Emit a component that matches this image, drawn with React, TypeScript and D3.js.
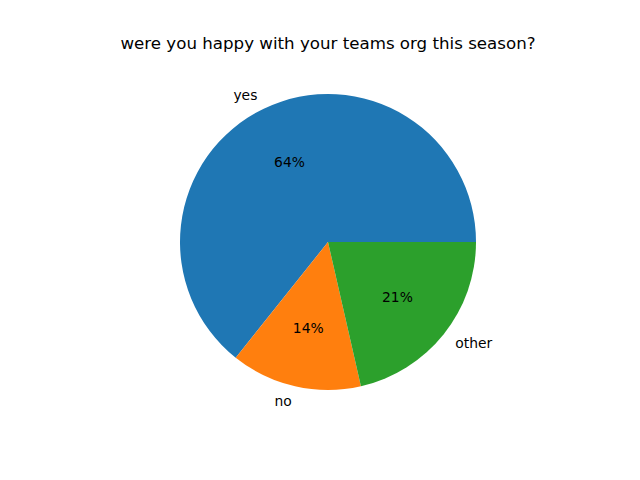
import React from 'react';
import * as d3 from 'd3';

const categories = ['yes', 'no', 'other'];
const counts = [9, 2, 3];
const colors = ['#1f77b4', '#ff7f0e', '#2ca02c'];
const title = 'were you happy with your teams org this season?';

const width = 640;
const height = 480;
const cx = 328;
const cy = 242;
const radius = 148;

const App = () => {
  // matplotlib style: start at 3 o'clock, go counterclockwise
  const pie = d3.pie<number>()
    .sort(null)
    .startAngle(Math.PI / 2)
    .endAngle(Math.PI / 2 - 2 * Math.PI);

  const arcs = pie(counts);
  const arc = d3.arc<d3.PieArcDatum<number>>().innerRadius(0).outerRadius(radius);
  const total = d3.sum(counts);

  const at = (a: number, r: number) => [r * Math.sin(a), -r * Math.cos(a)];

  return (
    <div style={{ position: 'absolute', left: 0, top: 0 }}>
      <svg width={width} height={height} style={{ display: 'block', background: '#fff' }}
        fontFamily="DejaVu Sans, sans-serif">
        <text x={cx} y={49} textAnchor="middle" fontSize={16.67} fill="#000">{title}</text>
        <g transform={`translate(${cx},${cy})`}>
          {arcs.map((d, i) => (
            <path key={i} d={arc(d) || ''} fill={colors[i]} />
          ))}
          {arcs.map((d, i) => {
            const mid = (d.startAngle + d.endAngle) / 2;
            const [lx, ly] = at(mid, radius * 1.1);
            const [px, py] = at(mid, radius * 0.6);
            const pct = (d.value / total) * 100;
            return (
              <g key={'t' + i} fontSize={13.89} fill="#000">
                <text x={lx} y={ly} dy="0.35em" textAnchor={lx > 0 ? 'start' : 'end'}>
                  {categories[i]}
                </text>
                <text x={px} y={py} dy="0.35em" textAnchor="middle">
                  {`${pct.toFixed(0)}%`}
                </text>
              </g>
            );
          })}
        </g>
      </svg>
    </div>
  );
};

export default App;
